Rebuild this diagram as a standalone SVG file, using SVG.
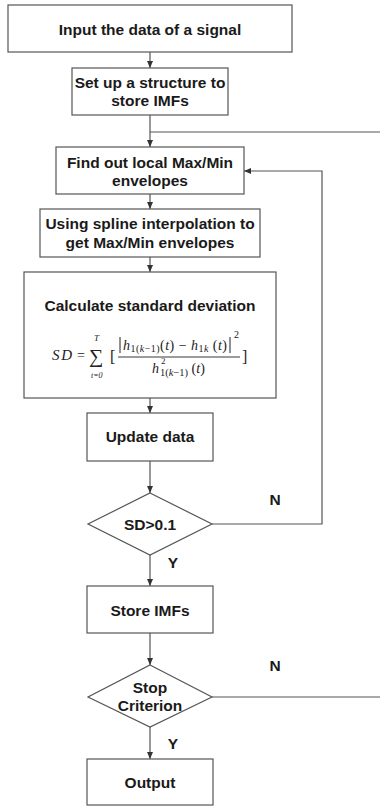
<svg xmlns="http://www.w3.org/2000/svg" width="380" height="807" viewBox="0 0 380 807">
<style>
.box{fill:#fff;stroke:#555;stroke-width:1.2}
.t{font-family:"Liberation Sans",Arial,sans-serif;font-weight:bold;font-size:15.5px;fill:#1a1a1a;text-anchor:middle;dominant-baseline:central}
.c{fill:none;stroke:#555;stroke-width:1.2}
.m{font-family:"Liberation Serif","Times New Roman",serif;font-style:italic;fill:#222}
.mr{font-family:"Liberation Serif","Times New Roman",serif;fill:#222}
.n{font-style:normal}
.i{font-style:italic}
</style>
<defs>
<marker id="ah" markerWidth="7" markerHeight="6" refX="7" refY="3" orient="auto" markerUnits="userSpaceOnUse">
<path d="M0,0 L7,3 L0,6 z" fill="#333"/>
</marker>
</defs>
<rect width="380" height="807" fill="#fff"/>
<g id="connectors">
<line class="c" x1="150" y1="52" x2="150" y2="68" marker-end="url(#ah)"/>
<line class="c" x1="150" y1="115" x2="150" y2="147" marker-end="url(#ah)"/>
<polyline class="c" points="380,132 150,132"/>
<line class="c" x1="150" y1="194" x2="150" y2="209" marker-end="url(#ah)"/>
<line class="c" x1="150" y1="257" x2="150" y2="272" marker-end="url(#ah)"/>
<line class="c" x1="150" y1="398" x2="150" y2="413" marker-end="url(#ah)"/>
<line class="c" x1="150" y1="461" x2="150" y2="493" marker-end="url(#ah)"/>
<polyline class="c" points="212,524 322,524 322,171 244,171" marker-end="url(#ah)"/>
<line class="c" x1="150" y1="555" x2="150" y2="586" marker-end="url(#ah)"/>
<line class="c" x1="150" y1="633" x2="150" y2="665" marker-end="url(#ah)"/>
<line class="c" x1="212" y1="697" x2="380" y2="697"/>
<line class="c" x1="150" y1="727" x2="150" y2="759" marker-end="url(#ah)"/>
<text class="t" x="275" y="499">N</text>
<text class="t" x="173" y="562">Y</text>
<text class="t" x="275" y="665">N</text>
<text class="t" x="173" y="743">Y</text>
</g>
<g id="n1">
<rect class="box" x="8" y="5" width="284" height="47"/>
<text class="t" x="150" y="29">Input the data of a signal</text>
</g>
<g id="n2">
<rect class="box" x="72" y="68" width="156" height="47"/>
<text class="t" x="150" y="82">Set up a structure to</text>
<text class="t" x="150" y="100">store IMFs</text>
</g>
<g id="n3">
<rect class="box" x="56" y="147" width="188" height="47"/>
<text class="t" x="150" y="162">Find out local Max/Min</text>
<text class="t" x="150" y="180">envelopes</text>
</g>
<g id="n4">
<rect class="box" x="40" y="209" width="220" height="48"/>
<text class="t" x="150" y="223">Using spline interpolation to</text>
<text class="t" x="150" y="242">get Max/Min envelopes</text>
</g>
<g id="n5">
<rect class="box" x="24" y="272" width="252" height="126"/>
<text class="t" x="150" y="305">Calculate standard deviation</text>
<text class="m" x="52" y="360" font-size="15" textLength="20">SD</text>
<text class="mr" x="77" y="360" font-size="14">=</text>
<text class="mr" x="89" y="363" font-size="20">∑<tspan class="i" x="94" y="341" font-size="9">T</tspan><tspan class="i" x="91" y="378" font-size="8">t=0</tspan></text>
<text class="mr" x="110" y="362" font-size="16">[</text>
<line x1="120" y1="337" x2="120" y2="353" stroke="#222" stroke-width="1"/>
<text class="m" x="123" y="350" font-size="14" textLength="104" lengthAdjust="spacing">h<tspan class="n" font-size="10" dy="2">1(</tspan><tspan font-size="10">k</tspan><tspan class="n" font-size="10">−1)</tspan><tspan class="n" dy="-2">(</tspan>t<tspan class="n">) − </tspan>h<tspan class="n" font-size="10" dy="2">1</tspan><tspan font-size="10">k</tspan><tspan class="n" dy="-2"> (</tspan>t<tspan class="n">)</tspan></text>
<line x1="230" y1="337" x2="230" y2="353" stroke="#222" stroke-width="1"/>
<text class="mr" x="234" y="338" font-size="10">2</text>
<line x1="118" y1="357" x2="240" y2="357" stroke="#222" stroke-width="0.9"/>
<text class="m" x="152" y="373" font-size="14">h<tspan class="n" x="161" y="364" font-size="9">2</tspan><tspan class="n" x="160" y="376" font-size="10.5">1(</tspan><tspan font-size="10.5" y="376">k</tspan><tspan class="n" font-size="10.5" y="376">−1)</tspan><tspan class="n" y="373"> (</tspan>t<tspan class="n">)</tspan></text>
<text class="mr" x="242" y="362" font-size="16">]</text>
</g>
<g id="n6">
<rect class="box" x="87" y="413" width="126" height="48"/>
<text class="t" x="150" y="436">Update data</text>
</g>
<g id="n7">
<polygon class="box" points="150,493 212,524 150,555 88,524"/>
<text class="t" x="150" y="524">SD&gt;0.1</text>
</g>
<g id="n8">
<rect class="box" x="87" y="586" width="126" height="47"/>
<text class="t" x="150" y="610">Store IMFs</text>
</g>
<g id="n9">
<polygon class="box" points="150,665 212,697 150,727 88,697"/>
<text class="t" x="150" y="687">Stop</text>
<text class="t" x="150" y="705">Criterion</text>
</g>
<g id="n10">
<rect class="box" x="87" y="759" width="126" height="46"/>
<text class="t" x="150" y="782">Output</text>
</g>
</svg>
